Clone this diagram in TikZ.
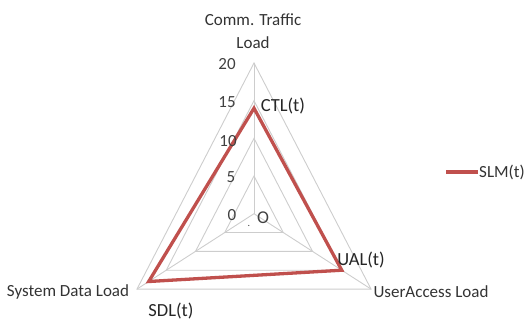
\documentclass[tikz,border=0pt]{standalone}
\usepackage{fontspec}
\setmainfont{Carlito}
\definecolor{slmred}{RGB}{192,80,77}
\definecolor{gridgray}{RGB}{205,205,205}
\tikzset{
  grid line/.style={draw=gridgray,line width=0.9pt},
  series line/.style={draw=slmred,line width=3.3pt,line join=miter},
  axis label/.style={font=\fontsize{17}{23}\selectfont,text=black!80,align=center},
  tick label/.style={font=\fontsize{17}{19}\selectfont,text=black!75},
  value label/.style={font=\fontsize{18.5}{20}\selectfont,text=black!85},
}
\begin{document}
\begin{tikzpicture}[x=1pt,y=1pt]
  \useasboundingbox (0,0) rectangle (529,-320);
  % radar grid
  \begin{scope}[shift={(254pt,-213.7pt)},x=6.755pt,y=7.535pt]
    \coordinate (O) at (0,0);
    \foreach \r in {5,10,15,20}
      \draw[grid line] (90:\r) -- (-30:\r) -- (210:\r) -- cycle;
    \coordinate (top) at (90:20);
    \coordinate (right) at (-30:20);
    \coordinate (left) at (210:20);
    \draw[grid line] (O) -- (top);
    \draw[grid line] (O) -- (right);
    \draw[grid line] (O) -- (left);
    % series
    \coordinate (ctl) at (90:14);
    \coordinate (ual) at (-30:15);
    \coordinate (sdl) at (210:18);
    \draw[series line] (ctl) -- (ual) -- (sdl) -- cycle;
  \end{scope}

  % axis values
  \node[tick label] (t20) at (227,-64) {20};
  \node[tick label] (t15) at (227,-102) {15};
  \node[tick label] (t10) at (228,-141) {10};
  \node[tick label] (t5) at (231,-177) {5};
  \node[tick label] (t0) at (232,-215) {0};
  \node[tick label,font=\fontsize{18}{19}\selectfont] (orig) at (263,-218) {O};
  \node[tick label,font=\fontsize{10}{10}\selectfont] (dot) at (249,-226) {.};

  % axis names
  \node[axis label] (comm) at (253,-31) {Comm. Traffic\\Load};
  \node[axis label] (sysdata) at (68,-292) {System Data Load};
  \node[axis label] (useracc) at (431,-292) {UserAccess Load};

  % point labels
  \node[value label] (ctllab) at (283,-106) {CTL(t)};
  \node[value label] (uallab) at (361,-260) {UAL(t)};
  \node[value label] (sdllab) at (171,-311) {SDL(t)};

  % legend
  \coordinate (legA) at (446,-172);
  \node[axis label,anchor=west,inner sep=1pt] (slm) at (478,-172) {SLM(t)};
  \draw[series line] (legA) -- (slm.west);
\end{tikzpicture}
\end{document}
